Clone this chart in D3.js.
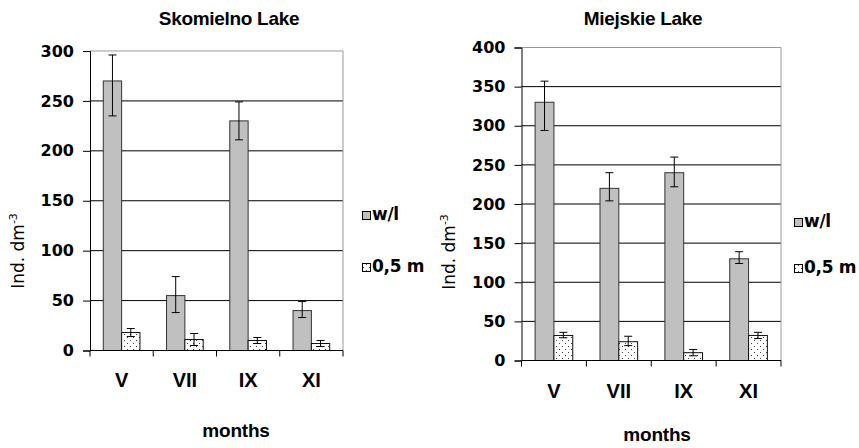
<!DOCTYPE html>
<html>
<head>
<meta charset="utf-8">
<script src="https://cdn.jsdelivr.net/npm/d3@7"></script>
<style>
  body { margin: 0; background: #fff; }
  text { font-family: "Liberation Sans", Arial, sans-serif; }
</style>
</head>
<body>
<div id="chart"></div>
<script>
// data
var months = ["V", "VII", "IX", "XI"];
var seriesNames = ["w/l", "0,5 m"];

var skomielnoWl     = [270, 55, 230, 40];
var skomielnoWlLow  = [235, 38, 211, 33];
var skomielnoWlHigh = [296, 74, 249, 49];
var skomielno05     = [18, 11, 10, 7];
var skomielno05Low  = [14, 5, 7, 4];
var skomielno05High = [22, 17, 13, 10];
var skomielnoTicks  = [0, 50, 100, 150, 200, 250, 300];

var miejskieWl      = [330, 220, 240, 130];
var miejskieWlLow   = [294, 204, 222, 124];
var miejskieWlHigh  = [357, 240, 260, 139];
var miejskie05      = [32, 24, 10, 32];
var miejskie05Low   = [29, 19, 6, 28];
var miejskie05High  = [36, 31, 14, 36];
var miejskieTicks   = [0, 50, 100, 150, 200, 250, 300, 350, 400];

const width = 859;
const height = 448;
const wide = "'DejaVu Sans', Verdana, sans-serif";

var svg = d3.select("#chart")
    .append("svg")
        .attr("width", width)
        .attr("height", height);

// dotted fill for the 0,5 m bars
var pat = svg.append("defs").append("pattern")
    .attr("id", "dots")
    .attr("patternUnits", "userSpaceOnUse")
    .attr("width", 6)
    .attr("height", 6);
pat.append("rect").attr("width", 6).attr("height", 6).attr("fill", "#fff");
pat.append("rect").attr("x", 1).attr("y", 1).attr("width", 1).attr("height", 1).attr("fill", "#444");
pat.append("rect").attr("x", 4).attr("y", 4).attr("width", 1).attr("height", 1).attr("fill", "#444");

var fills = ["#c0c0c0", "url(#dots)"];
var strokes = ["#333", "#111"];

function drawChart(c)
{
    var g = svg.append("g");

    var yScale = d3.scaleLinear()
        .domain([0, d3.max(c.ticks)])
        .range([c.bottom, c.top]);
    var xScale = d3.scaleBand()
        .domain(months)
        .range([c.left, c.right])
        .paddingInner(0.42)
        .paddingOuter(0.21);
    var xSub = d3.scaleBand()
        .domain(seriesNames)
        .range([0, xScale.bandwidth()]);

    var rows = [];
    months.forEach(function(m, i) {
        rows.push({month: m, s: 0, v: c.wl[i], lo: c.wlLow[i], hi: c.wlHigh[i]});
        rows.push({month: m, s: 1, v: c.m05[i], lo: c.m05Low[i], hi: c.m05High[i]});
    });

    //Grid lines
    g.selectAll(".grid")
        .data(c.ticks.filter(function(t) { return t > 0; }))
        .enter().append("line")
        .attr("x1", c.left)
        .attr("x2", c.right)
        .attr("y1", function(d) { return yScale(d); })
        .attr("y2", function(d) { return yScale(d); })
        .style("stroke", function(d) { return d == d3.max(c.ticks) ? "#999" : "#000"; })
        .style("stroke-width", 1);

    // right border
    g.append("line")
        .attr("x1", c.right).attr("x2", c.right)
        .attr("y1", yScale(d3.max(c.ticks))).attr("y2", c.bottom)
        .style("stroke", "#999");

    //Bars
    g.selectAll(".bar")
        .data(rows)
        .enter().append("rect")
        .attr("x", function(d) { return xScale(d.month) + xSub(seriesNames[d.s]); })
        .attr("y", function(d) { return yScale(d.v); })
        .attr("width", xSub.bandwidth())
        .attr("height", function(d) { return yScale(0) - yScale(d.v); })
        .style("fill", function(d) { return fills[d.s]; })
        .style("stroke", function(d) { return strokes[d.s]; })
        .style("stroke-width", 1);

    //Error bars
    var eb = g.selectAll(".err")
        .data(rows)
        .enter().append("g")
        .attr("transform", function(d) {
            return "translate(" + (xScale(d.month) + xSub(seriesNames[d.s]) + xSub.bandwidth() / 2) + ",0)";
        });
    eb.append("line")
        .attr("y1", function(d) { return yScale(d.lo); })
        .attr("y2", function(d) { return yScale(d.hi); })
        .style("stroke", "#000");
    eb.append("line")
        .attr("x1", -4).attr("x2", 4)
        .attr("y1", function(d) { return yScale(d.lo); })
        .attr("y2", function(d) { return yScale(d.lo); })
        .style("stroke", "#000");
    eb.append("line")
        .attr("x1", -4).attr("x2", 4)
        .attr("y1", function(d) { return yScale(d.hi); })
        .attr("y2", function(d) { return yScale(d.hi); })
        .style("stroke", "#000");

    //Y Axis
    var yAxis = d3.axisLeft(yScale).tickValues(c.ticks).tickSize(7).tickPadding(9);
    g.append("g")
        .attr("transform", `translate(${c.left},0)`)
        .call(yAxis)
        .call(a => a.selectAll("text")
            .style("font-size", "16px")
            .style("font-weight", "bold")
            .style("font-family", wide)
            .attr("fill", "#000"))
        .call(a => a.selectAll("line,path").attr("stroke", "#000"));

    //X Axis
    var xAxis = g.append("g");
    xAxis.append("line")
        .attr("x1", c.left).attr("x2", c.right)
        .attr("y1", c.bottom).attr("y2", c.bottom)
        .style("stroke", "#000");
    var bounds = months.map(function(m) { return xScale(m) - xScale.step() * 0.21; });
    bounds.push(c.right);
    xAxis.selectAll(".xtick")
        .data(bounds)
        .enter().append("line")
        .attr("x1", function(d) { return d; })
        .attr("x2", function(d) { return d; })
        .attr("y1", c.bottom)
        .attr("y2", c.bottom + 6)
        .style("stroke", "#000");
    xAxis.selectAll(".xlab")
        .data(months)
        .enter().append("text")
        .attr("x", function(d) { return xScale(d) + xScale.bandwidth() / 2; })
        .attr("y", c.bottom + c.labelGap)
        .style("text-anchor", "middle")
        .style("font-size", "20px")
        .style("font-weight", "bold")
        .text(function(d) { return d; });

    //Title
    g.append("text")
        .attr("x", c.titleX)
        .attr("y", 25)
        .style("text-anchor", "middle")
        .style("font-size", "19px")
        .style("font-weight", "bold")
        .style("letter-spacing", "-0.3px")
        .text(c.title);

    //X Axis label
    g.append("text")
        .attr("x", c.monthsX)
        .attr("y", c.monthsY)
        .style("text-anchor", "middle")
        .style("font-size", "19px")
        .style("font-weight", "bold")
        .style("letter-spacing", "-0.2px")
        .text("months");

    //Y Axis label
    var yl = g.append("text")
        .attr("transform", "translate(" + c.ytitleX + "," + c.ytitleY + ") rotate(-90)")
        .style("text-anchor", "middle")
        .style("font-family", wide)
        .style("font-size", "17px");
    yl.append("tspan").text("Ind. dm");
    yl.append("tspan").attr("dy", -7).style("font-size", "11px").text("-3");

    //Legend
    var leg = g.selectAll(".legend")
        .data(seriesNames)
        .enter().append("g")
        .attr("transform", function(d, i) { return "translate(" + c.legX + "," + c.legY[i] + ")"; });
    leg.append("rect")
        .attr("x", 0.5).attr("y", -8.5)
        .attr("width", 8).attr("height", 8)
        .style("fill", function(d, i) { return fills[i]; })
        .style("stroke", "#000");
    leg.append("text")
        .attr("x", 10)
        .attr("y", 0)
        .style("font-family", wide)
        .style("font-size", "17px")
        .style("font-weight", "bold")
        .style("letter-spacing", "-0.3px")
        .text(function(d) { return d; });
}

drawChart({
    title: "Skomielno Lake", titleX: 229,
    wl: skomielnoWl, wlLow: skomielnoWlLow, wlHigh: skomielnoWlHigh,
    m05: skomielno05, m05Low: skomielno05Low, m05High: skomielno05High,
    ticks: skomielnoTicks,
    left: 90, right: 343, top: 51, bottom: 350.5,
    labelGap: 36, monthsX: 236, monthsY: 437,
    ytitleX: 24, ytitleY: 251,
    legX: 362, legY: [220, 272]
});

drawChart({
    title: "Miejskie Lake", titleX: 643,
    wl: miejskieWl, wlLow: miejskieWlLow, wlHigh: miejskieWlHigh,
    m05: miejskie05, m05Low: miejskie05Low, m05High: miejskie05High,
    ticks: miejskieTicks,
    left: 521.5, right: 781, top: 47.5, bottom: 360.5,
    labelGap: 37, monthsX: 657, monthsY: 441,
    ytitleX: 455, ytitleY: 252,
    legX: 794, legY: [227, 273]
});
</script>
</body>
</html>
